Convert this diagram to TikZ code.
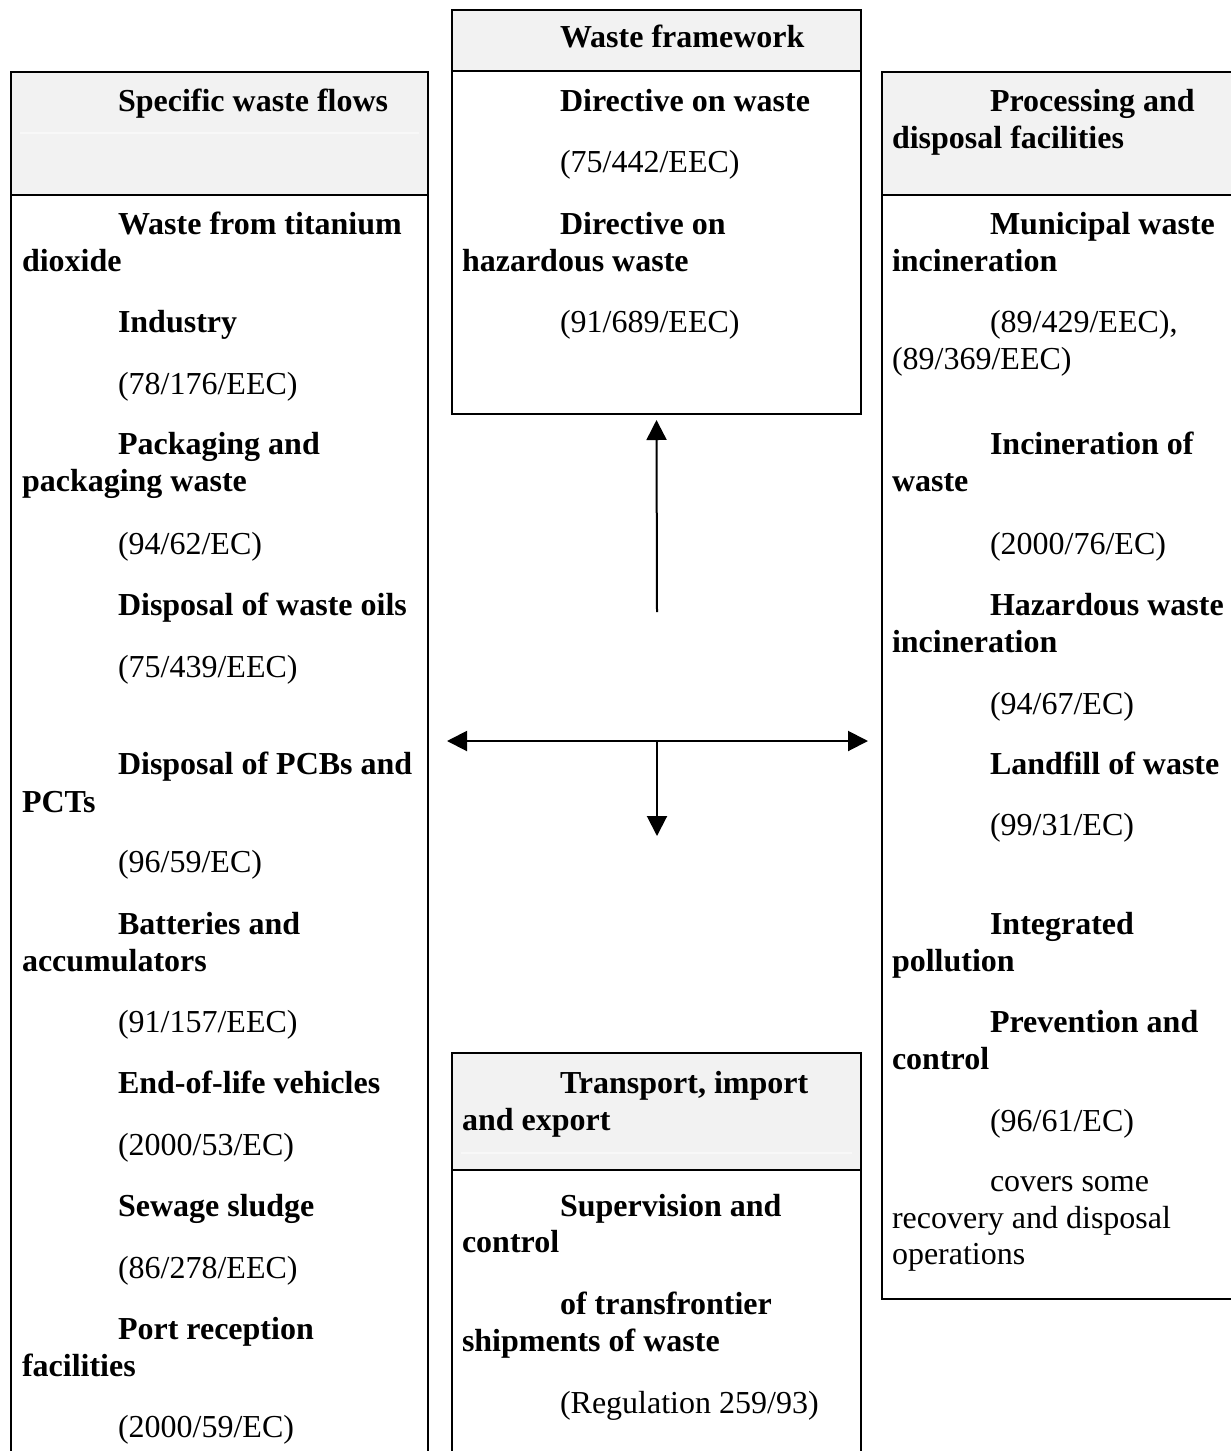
\documentclass[tikz,border=0pt]{standalone}
\usepackage{fontspec}
\setmainfont{Liberation Serif}
\usetikzlibrary{arrows.meta}
\definecolor{hdrgray}{HTML}{F2F2F2}
\definecolor{hdrline}{HTML}{F8F8F8}
\tikzset{
  frame/.style={draw=black, line width=2.5pt, inner sep=0pt, outer sep=0pt, anchor=north west},
  hdr/.style={frame, fill=hdrgray},
  txt/.style={anchor=base west, inner sep=0pt, outer sep=0pt, font=\fontsize{32}{37}\selectfont},
  b/.style={txt, font=\fontsize{32}{37}\selectfont\bfseries},
  conn/.style={line width=2pt, -{Triangle[length=20pt,width=20pt]}},
  conn2/.style={line width=2pt, {Triangle[length=20pt,width=20pt]}-{Triangle[length=20pt,width=20pt]}}
}
\begin{document}
\begin{tikzpicture}[x=1pt,y=-1pt]
\useasboundingbox (0,0) rectangle (1231,1451);
% boxes
\node[hdr, minimum width=417, minimum height=123] (sfH) at (11,72) {};
\node[frame, minimum width=417, minimum height=1290] (sfB) at (11,195) {};
\node[hdr, minimum width=409, minimum height=61] (wfH) at (452,10) {};
\node[frame, minimum width=409, minimum height=343] (wfB) at (452,71) {};
\node[hdr, minimum width=380, minimum height=123] (pdH) at (882,72) {};
\node[frame, minimum width=380, minimum height=1104] (pdB) at (882,195) {};
\node[hdr, minimum width=409, minimum height=117] (tiH) at (452,1053) {};
\node[frame, minimum width=409, minimum height=300] (tiB) at (452,1170) {};
% faint header lines
\draw[hdrline, line width=1.5pt] ([xshift=9pt,yshift=-61pt]sfH.north west) -- ([xshift=-9pt,yshift=-61pt]sfH.north east);
\draw[hdrline, line width=1.5pt] ([xshift=9pt,yshift=-100pt]tiH.north west) -- ([xshift=-9pt,yshift=-100pt]tiH.north east);
% connectors
\coordinate (hub) at (657,741);
\coordinate (upfoot) at (657,612);
\coordinate (downtip) at (657,836);
\draw[conn] (upfoot) -- ([yshift=-6pt]wfB.south);
\draw[conn2] ([xshift=19pt]sfB.east |- hub) -- ([xshift=-14pt]pdB.west |- hub);
\draw[conn] (hub) -- (downtip);
% left box text
\node[b] (l1) at (118,111) {Specific waste flows};
\node[b] (l2) at (118,234) {Waste from titanium};
\node[b] (l3) at (22,271) {dioxide};
\node[b] (l4) at (118,332) {Industry};
\node[txt] (l5) at (118,394) {(78/176/EEC)};
\node[b] (l6) at (118,454) {Packaging and};
\node[b] (l7) at (22,491) {packaging waste};
\node[txt] (l8) at (118,554) {(94/62/EC)};
\node[b] (l9) at (118,615) {Disposal of waste oils};
\node[txt] (l10) at (118,677) {(75/439/EEC)};
\node[b] (l11) at (118,774) {Disposal of PCBs and};
\node[b] (l12) at (22,812) {PCTs};
\node[txt] (l13) at (118,872) {(96/59/EC)};
\node[b] (l14) at (118,934) {Batteries and};
\node[b] (l15) at (22,971) {accumulators};
\node[txt] (l16) at (118,1032) {(91/157/EEC)};
\node[b] (l17) at (118,1093) {End-of-life vehicles};
\node[txt] (l18) at (118,1155) {(2000/53/EC)};
\node[b] (l19) at (118,1216) {Sewage sludge};
\node[txt] (l20) at (118,1278) {(86/278/EEC)};
\node[b] (l21) at (118,1339) {Port reception};
\node[b] (l22) at (22,1376) {facilities};
\node[txt] (l23) at (118,1437) {(2000/59/EC)};
% middle top text
\node[b] (m1) at (560,47) {Waste framework};
\node[b] (m2) at (560,111) {Directive on waste};
\node[txt] (m3) at (560,172) {(75/442/EEC)};
\node[b] (m4) at (560,234) {Directive on};
\node[b] (m5) at (462,271) {hazardous waste};
\node[txt] (m6) at (560,332) {(91/689/EEC)};
% right box text
\node[b] (r1) at (990,111) {Processing and};
\node[b] (r2) at (892,148) {disposal facilities};
\node[b] (r3) at (990,234) {Municipal waste};
\node[b] (r4) at (892,271) {incineration};
\node[txt] (r5) at (990,332) {(89/429/EEC),};
\node[txt] (r6) at (892,369) {(89/369/EEC)};
\node[b] (r7) at (990,454) {Incineration of};
\node[b] (r8) at (892,491) {waste};
\node[txt] (r9) at (990,554) {(2000/76/EC)};
\node[b] (r10) at (990,615) {Hazardous waste};
\node[b] (r11) at (892,652) {incineration};
\node[txt] (r12) at (990,714) {(94/67/EC)};
\node[b] (r13) at (990,774) {Landfill of waste};
\node[txt] (r14) at (990,835) {(99/31/EC)};
\node[b] (r15) at (990,934) {Integrated};
\node[b] (r16) at (892,971) {pollution};
\node[b] (r17) at (990,1032) {Prevention and};
\node[b] (r18) at (892,1069) {control};
\node[txt] (r19) at (990,1131) {(96/61/EC)};
\node[txt] (r20) at (990,1191) {covers some};
\node[txt] (r21) at (892,1228) {recovery and disposal};
\node[txt] (r22) at (892,1264) {operations};
% bottom middle text
\node[b] (t1) at (560,1093) {Transport, import};
\node[b] (t2) at (462,1130) {and export};
\node[b] (t3) at (560,1216) {Supervision and};
\node[b] (t4) at (462,1252) {control};
\node[b] (t5) at (560,1314) {of transfrontier};
\node[b] (t6) at (462,1351) {shipments of waste};
\node[txt] (t7) at (560,1413) {(Regulation 259/93)};
\end{tikzpicture}
\end{document}
